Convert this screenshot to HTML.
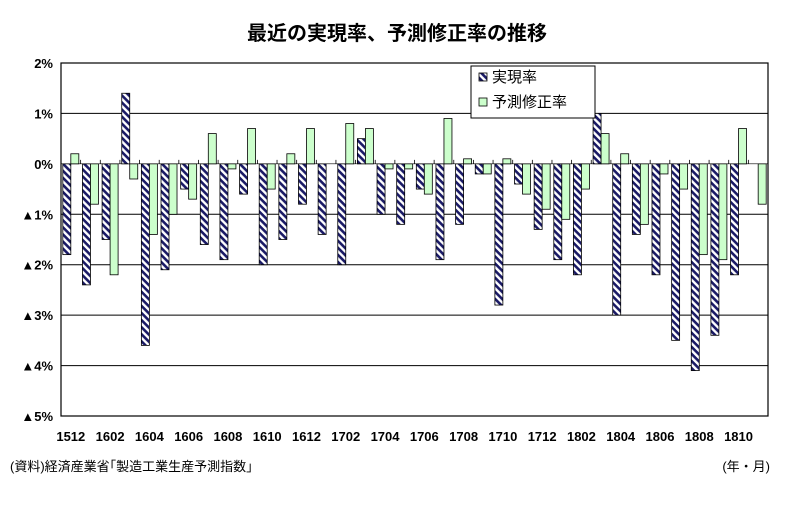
<!DOCTYPE html>
<html><head><meta charset="utf-8"><style>
body{margin:0;background:#fff;}
svg text{font-family:"Liberation Sans","Noto Sans CJK JP",sans-serif;}
</style></head><body>
<svg id="chart" width="795" height="508" viewBox="0 0 795 508" xmlns="http://www.w3.org/2000/svg">
<defs>
<pattern id="hatch" width="5" height="5" patternUnits="userSpaceOnUse" patternTransform="rotate(45)">
<rect width="5" height="5" fill="#fff"/>
<rect width="5" height="2.6" fill="#1a1a66"/>
</pattern>
</defs>
<text x="397" y="40" text-anchor="middle" font-size="20" font-weight="bold">最近の実現率、予測修正率の推移</text>
<g id="grid"></g>
<g id="bars"></g>
<g id="axes"></g>
<g>
<rect x="471" y="66" width="124" height="52" fill="#fff" stroke="#000" stroke-width="1"/>
<rect x="479" y="73" width="8" height="8" fill="url(#hatch)" stroke="#000" stroke-width="0.8"/>
<text x="492" y="82" font-size="15">実現率</text>
<rect x="479" y="98" width="8" height="8" fill="#ccffcc" stroke="#000" stroke-width="0.8"/>
<text x="492" y="107" font-size="15">予測修正率</text>
</g>
<text x="10" y="471" font-size="13">(資料)経済産業省｢製造工業生産予測指数｣</text>
<text x="770" y="471" font-size="13" text-anchor="end">(年・月)</text>
</svg>
<script>
const categories=["1512","1601","1602","1603","1604","1605","1606","1607","1608","1609","1610","1611","1612","1701","1702","1703","1704","1705","1706","1707","1708","1709","1710","1711","1712","1801","1802","1803","1804","1805","1806","1807","1808","1809","1810","1811"];
const actualRate=[-1.8,-2.4,-1.5,1.4,-3.6,-2.1,-0.5,-1.6,-1.9,-0.6,-2.0,-1.5,-0.8,-1.4,-2.0,0.5,-1.0,-1.2,-0.5,-1.9,-1.2,-0.2,-2.8,-0.4,-1.3,-1.9,-2.2,1.0,-3.0,-1.4,-2.2,-3.5,-4.1,-3.4,-2.2,0];
const revisionRate=[0.2,-0.8,-2.2,-0.3,-1.4,-1.0,-0.7,0.6,-0.1,0.7,-0.5,0.2,0.7,0,0.8,0.7,-0.1,-0.1,-0.6,0.9,0.1,-0.2,0.1,-0.6,-0.9,-1.1,-0.5,0.6,0.2,-1.2,-0.2,-0.5,-1.8,-1.9,0.7,-0.8];
const yTicks=[2,1,0,-1,-2,-3,-4,-5];
const yTickLabels=["2%","1%","0%","▲1%","▲2%","▲3%","▲4%","▲5%"];
const NS="http://www.w3.org/2000/svg";
const L=61,R=768,T=63,B=416,yMax=2,yMin=-5;
const bw=(R-L)/categories.length;
function y(v){return T+(yMax-v)/(yMax-yMin)*(B-T);}
function x(i){return L+i*bw;}
function mk(tag,attrs,parent){const e=document.createElementNS(NS,tag);for(const k in attrs)e.setAttribute(k,attrs[k]);parent.appendChild(e);return e;}
const grid=document.getElementById('grid'),bars=document.getElementById('bars'),axes=document.getElementById('axes');
yTicks.forEach((t,i)=>{
  if(t!==yMin){const g=mk('line',{x1:L,x2:R,y1:y(t),y2:y(t),stroke:'#000','stroke-width':t===0?0.6:1},grid);
  
  }
  const tx=mk('text',{x:L-8,y:y(t)+5,'text-anchor':'end','font-size':13,'font-weight':'bold'},axes);
  tx.textContent=yTickLabels[i];
  
  
});
const w=8;
categories.forEach((c,i)=>{
  const x0=x(i)+(bw-2*w)/2;
  const a=actualRate[i];
  if(a!==0){const r=mk('rect',{x:x0,y:Math.min(y(a),y(0)),width:w,height:Math.abs(y(a)-y(0)),fill:'url(#hatch)',stroke:'#000','stroke-width':0.8},bars);
  
  }
  const f=revisionRate[i];
  if(f!==0){const r2=mk('rect',{x:x0+w,y:Math.min(y(f),y(0)),width:w,height:Math.abs(y(f)-y(0)),fill:'#ccffcc',stroke:'#000','stroke-width':0.8},bars);
  
  }
  if(i>0){const tk=mk('line',{x1:x(i),x2:x(i),y1:y(0)-4,y2:y(0),stroke:'#000','stroke-width':0.8},axes);
  
  }
  if(i%2===0){const lb=mk('text',{x:x(i)+bw/2,y:441,'text-anchor':'middle','font-size':13,'font-weight':'bold'},axes);
  lb.textContent=c;
  
  }
});
const fr=mk('rect',{x:L,y:T,width:R-L,height:B-T,fill:'none',stroke:'#000','stroke-width':1.2},axes);


</script>
</body></html>
